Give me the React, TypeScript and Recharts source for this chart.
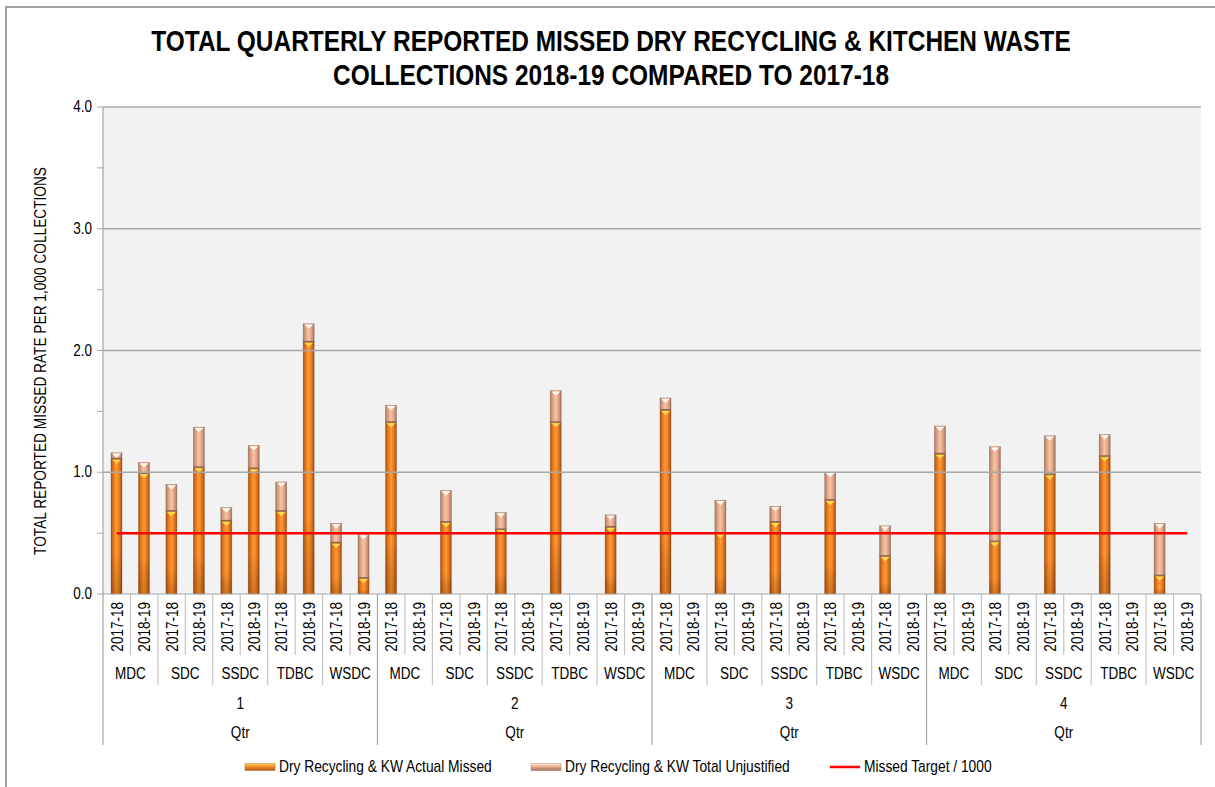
import React from 'react';
import { ComposedChart, Bar, Line, XAxis, YAxis, CartesianGrid, ReferenceLine } from 'recharts';

const quarters = ['1', '2', '3', '4'];
const councils = ['MDC', 'SDC', 'SSDC', 'TDBC', 'WSDC'];
const years = ['2017-18', '2018-19'];

// one value per quarter / council / year, null where there is no figure yet
const actualMissed = [
  1.11, 0.99, 0.68, 1.04, 0.6, 1.03, 0.68, 2.07, 0.42, 0.13,
  1.41, null, 0.59, null, 0.53, null, 1.41, null, 0.55, null,
  1.51, null, 0.5, null, 0.59, null, 0.77, null, 0.31, null,
  1.15, null, 0.43, null, 0.98, null, 1.13, null, 0.15, null,
];
const totalUnjustified = [
  0.05, 0.09, 0.22, 0.33, 0.11, 0.19, 0.24, 0.15, 0.16, 0.36,
  0.14, null, 0.26, null, 0.14, null, 0.26, null, 0.1, null,
  0.1, null, 0.27, null, 0.13, null, 0.23, null, 0.25, null,
  0.23, null, 0.78, null, 0.32, null, 0.18, null, 0.43, null,
];
const missedTarget = 0.5;
const yTicks = [0, 0.5, 1, 1.5, 2, 2.5, 3, 3.5, 4];
const gridValues = [1, 2, 3, 4];

// no Arial Narrow here, so squeeze the regular face
const FONT = "'Liberation Sans', Arial, sans-serif";
const SQUEEZE = 0.82;

const data: any[] = [];
quarters.forEach((q, qi) =>
  councils.forEach((c, ci) =>
    years.forEach((yr, yi) => {
      const i = qi * 10 + ci * 2 + yi;
      data.push({
        key: `${q}-${c}-${yr}`,
        quarter: q,
        council: c,
        year: yr,
        actual: actualMissed[i],
        unjustified: totalUnjustified[i],
        target: missedTarget,
      });
    })
  )
);

const NText = ({ x, y, anchor = 'middle', size = 16, weight = 'normal', vertical = false, sx = SQUEEZE, children }: any) => (
  <g transform={`translate(${x},${y})${vertical ? ' rotate(-90)' : ''} scale(${sx},1)`}>
    <text x={0} y={0} textAnchor={anchor} fontSize={size} fontWeight={weight} fontFamily={FONT} fill="#000">
      {children}
    </text>
  </g>
);

const ActualShape = (props: any) => {
  const { x, y, width, height } = props;
  if (!height || height <= 0) return null;
  return (
    <g>
      <rect x={x} y={y} width={width} height={height} fill="url(#gActual)" stroke="#8a4a18" strokeOpacity={0.45} strokeWidth={0.7} />
      <rect x={x} y={y} width={width} height={height} fill="url(#gShade)" />
      <polygon points={`${x + 1},${y + 0.8} ${x + width - 1},${y + 0.8} ${x + width / 2},${y + Math.min(5, height)}`} fill="#ffd84d" />
    </g>
  );
};

const UnjustShape = (props: any) => {
  const { x, y, width, height } = props;
  if (!height || height <= 0) return null;
  return (
    <g>
      <rect x={x} y={y} width={width} height={height} fill="url(#gUnjust)" stroke="#7a5a48" strokeOpacity={0.5} strokeWidth={0.7} />
      <line x1={x} x2={x + width} y1={y + height - 0.5} y2={y + height - 0.5} stroke="#8a6652" strokeWidth={1.2} />
      <polygon points={`${x + 1},${y + 0.8} ${x + width - 1},${y + 0.8} ${x + width / 2},${y + Math.min(5, height)}`} fill="#fff8f0" />
    </g>
  );
};

const YTick = (props: any) => {
  const { x, y, payload } = props;
  if (payload.value % 1 !== 0) return null;
  return (
    <NText x={x - 3} y={y + 5} anchor="end" size={16.5}>
      {payload.value.toFixed(1)}
    </NText>
  );
};

const XTick = (props: any) => {
  const { x, y, payload, index } = props;
  const i = typeof index === 'number' ? index : payload.index;
  const band = payload.offset ? payload.offset * 2 : 27.45;
  const row = data[i];
  if (!row) return null;
  const yi = i % 2;
  const lastInQtr = i % 10 === 9;
  const sepLen = lastInQtr ? 151 : yi === 1 ? 91 : 61;
  const sepColor = lastInQtr ? '#a6a6a6' : '#c4c4c4';
  const right = x + band / 2;
  return (
    <g>
      <NText x={x + 6} y={y + 8} anchor="end" size={16.5} vertical>
        {row.year}
      </NText>
      <line x1={right} x2={right} y1={y} y2={y + sepLen} stroke={sepColor} strokeWidth={1.2} />
      {i === 0 && <line x1={x - band / 2} x2={x - band / 2} y1={y} y2={y + 151} stroke="#a6a6a6" strokeWidth={1.2} />}
      {yi === 1 && (
        <NText x={x - band / 2} y={y + 85} size={16.5}>
          {row.council}
        </NText>
      )}
      {lastInQtr && (
        <g>
          <NText x={x - 4.5 * band} y={y + 115} size={16.5}>
            {row.quarter}
          </NText>
          <NText x={x - 4.5 * band} y={y + 144} size={16.5}>
            Qtr
          </NText>
        </g>
      )}
    </g>
  );
};

const BarIcon = ({ fill }: { fill: string }) => (
  <svg width={32} height={10} style={{ display: 'block' }}>
    <rect x={1} y={1.5} width={30} height={7} fill={fill} stroke="#8a5a30" strokeOpacity={0.5} strokeWidth={0.7} />
  </svg>
);

const legendText: React.CSSProperties = {
  marginLeft: 3,
  display: 'inline-block',
  transform: 'scaleX(0.81)',
  transformOrigin: 'left center',
};

export default function App() {
  return (
    <div style={{ position: 'absolute', left: 0, top: 0, width: 1215, height: 787, background: '#fff', overflow: 'hidden', fontFamily: FONT }}>
      <svg width={0} height={0} style={{ position: 'absolute' }}>
        <defs>
          <linearGradient id="gActual" x1="0" y1="0" x2="1" y2="0">
            <stop offset="0%" stopColor="#a94f10" />
            <stop offset="22%" stopColor="#e2771f" />
            <stop offset="50%" stopColor="#ff9a33" />
            <stop offset="78%" stopColor="#e2771f" />
            <stop offset="100%" stopColor="#a0490e" />
          </linearGradient>
          <linearGradient id="gShade" x1="0" y1="0" x2="0" y2="1">
            <stop offset="0%" stopColor="#000" stopOpacity={0} />
            <stop offset="70%" stopColor="#000" stopOpacity={0} />
            <stop offset="100%" stopColor="#5a2500" stopOpacity={0.25} />
          </linearGradient>
          <linearGradient id="gUnjust" x1="0" y1="0" x2="1" y2="0">
            <stop offset="0%" stopColor="#a77a64" />
            <stop offset="22%" stopColor="#dda184" />
            <stop offset="50%" stopColor="#f9c3a4" />
            <stop offset="78%" stopColor="#dda184" />
            <stop offset="100%" stopColor="#a07260" />
          </linearGradient>
          <linearGradient id="gLegActual" x1="0" y1="0" x2="0" y2="1">
            <stop offset="0%" stopColor="#ffd84d" />
            <stop offset="35%" stopColor="#ff9a33" />
            <stop offset="100%" stopColor="#b8560f" />
          </linearGradient>
          <linearGradient id="gLegUnjust" x1="0" y1="0" x2="0" y2="1">
            <stop offset="0%" stopColor="#fff8f0" />
            <stop offset="35%" stopColor="#f4b896" />
            <stop offset="100%" stopColor="#a07260" />
          </linearGradient>
        </defs>
      </svg>

      <div style={{ position: 'absolute', left: 5, top: 6, width: 1230, height: 800, borderLeft: '2px solid #a0a0a0', borderTop: '2px solid #a0a0a0' }} />

      <div style={{ position: 'absolute', left: 0, top: 0 }}>
        <ComposedChart width={1215} height={787} data={data} margin={{ top: 107, right: 14, bottom: 43, left: 43 }} barSize={11}>
          <CartesianGrid horizontal={false} vertical={false} fill="#f2f2f2" />
          {gridValues.map((v) => (
            <ReferenceLine key={v} y={v} stroke="#a8a8a8" strokeWidth={1.5} />
          ))}
          <XAxis
            dataKey="key"
            interval={0}
            tickLine={false}
            tickSize={0}
            tickMargin={0}
            height={150}
            axisLine={{ stroke: '#a6a6a6', strokeWidth: 1.2 }}
            tick={<XTick />}
          />
          <YAxis
            width={60}
            domain={[0, 4]}
            ticks={yTicks}
            interval={0}
            tickSize={6}
            tickMargin={2}
            tickLine={{ stroke: '#a6a6a6' }}
            axisLine={{ stroke: '#a6a6a6', strokeWidth: 1.2 }}
            tick={<YTick />}
          />
          <Bar dataKey="actual" name="Dry Recycling & KW Actual Missed" stackId="a" shape={<ActualShape />} isAnimationActive={false} />
          <Bar dataKey="unjustified" name="Dry Recycling & KW Total Unjustified" stackId="a" shape={<UnjustShape />} isAnimationActive={false} />
          <Line dataKey="target" name="Missed Target / 1000" type="linear" stroke="#ff0000" strokeWidth={2.5} dot={false} activeDot={false} isAnimationActive={false} />
        </ComposedChart>
      </div>

      <svg width={1215} height={787} style={{ position: 'absolute', left: 0, top: 0, pointerEvents: 'none' }}>
        <NText x={611} y={51} size={30} weight="bold" sx={0.815}>
          TOTAL QUARTERLY REPORTED MISSED DRY RECYCLING &amp; KITCHEN WASTE
        </NText>
        <NText x={611} y={85} size={30} weight="bold" sx={0.815}>
          COLLECTIONS 2018-19 COMPARED TO 2017-18
        </NText>
        <NText x={46} y={361} size={16.7} vertical>
          TOTAL REPORTED MISSED RATE PER 1,000 COLLECTIONS
        </NText>
      </svg>

      <div style={{ position: 'absolute', left: 244, top: 757, display: 'flex', alignItems: 'center', fontSize: 17, color: '#000', whiteSpace: 'nowrap' }}>
        <BarIcon fill="url(#gLegActual)" />
        <span style={legendText}>Dry Recycling &amp; KW Actual Missed</span>
      </div>
      <div style={{ position: 'absolute', left: 530, top: 757, display: 'flex', alignItems: 'center', fontSize: 17, color: '#000', whiteSpace: 'nowrap' }}>
        <BarIcon fill="url(#gLegUnjust)" />
        <span style={legendText}>Dry Recycling &amp; KW Total Unjustified</span>
      </div>
      <div style={{ position: 'absolute', left: 829, top: 757, display: 'flex', alignItems: 'center', fontSize: 17, color: '#000', whiteSpace: 'nowrap' }}>
        <svg width={32} height={10} style={{ display: 'block' }}>
          <line x1={1} x2={31} y1={5} y2={5} stroke="#ff0000" strokeWidth={2.5} />
        </svg>
        <span style={legendText}>Missed Target / 1000</span>
      </div>
    </div>
  );
}
